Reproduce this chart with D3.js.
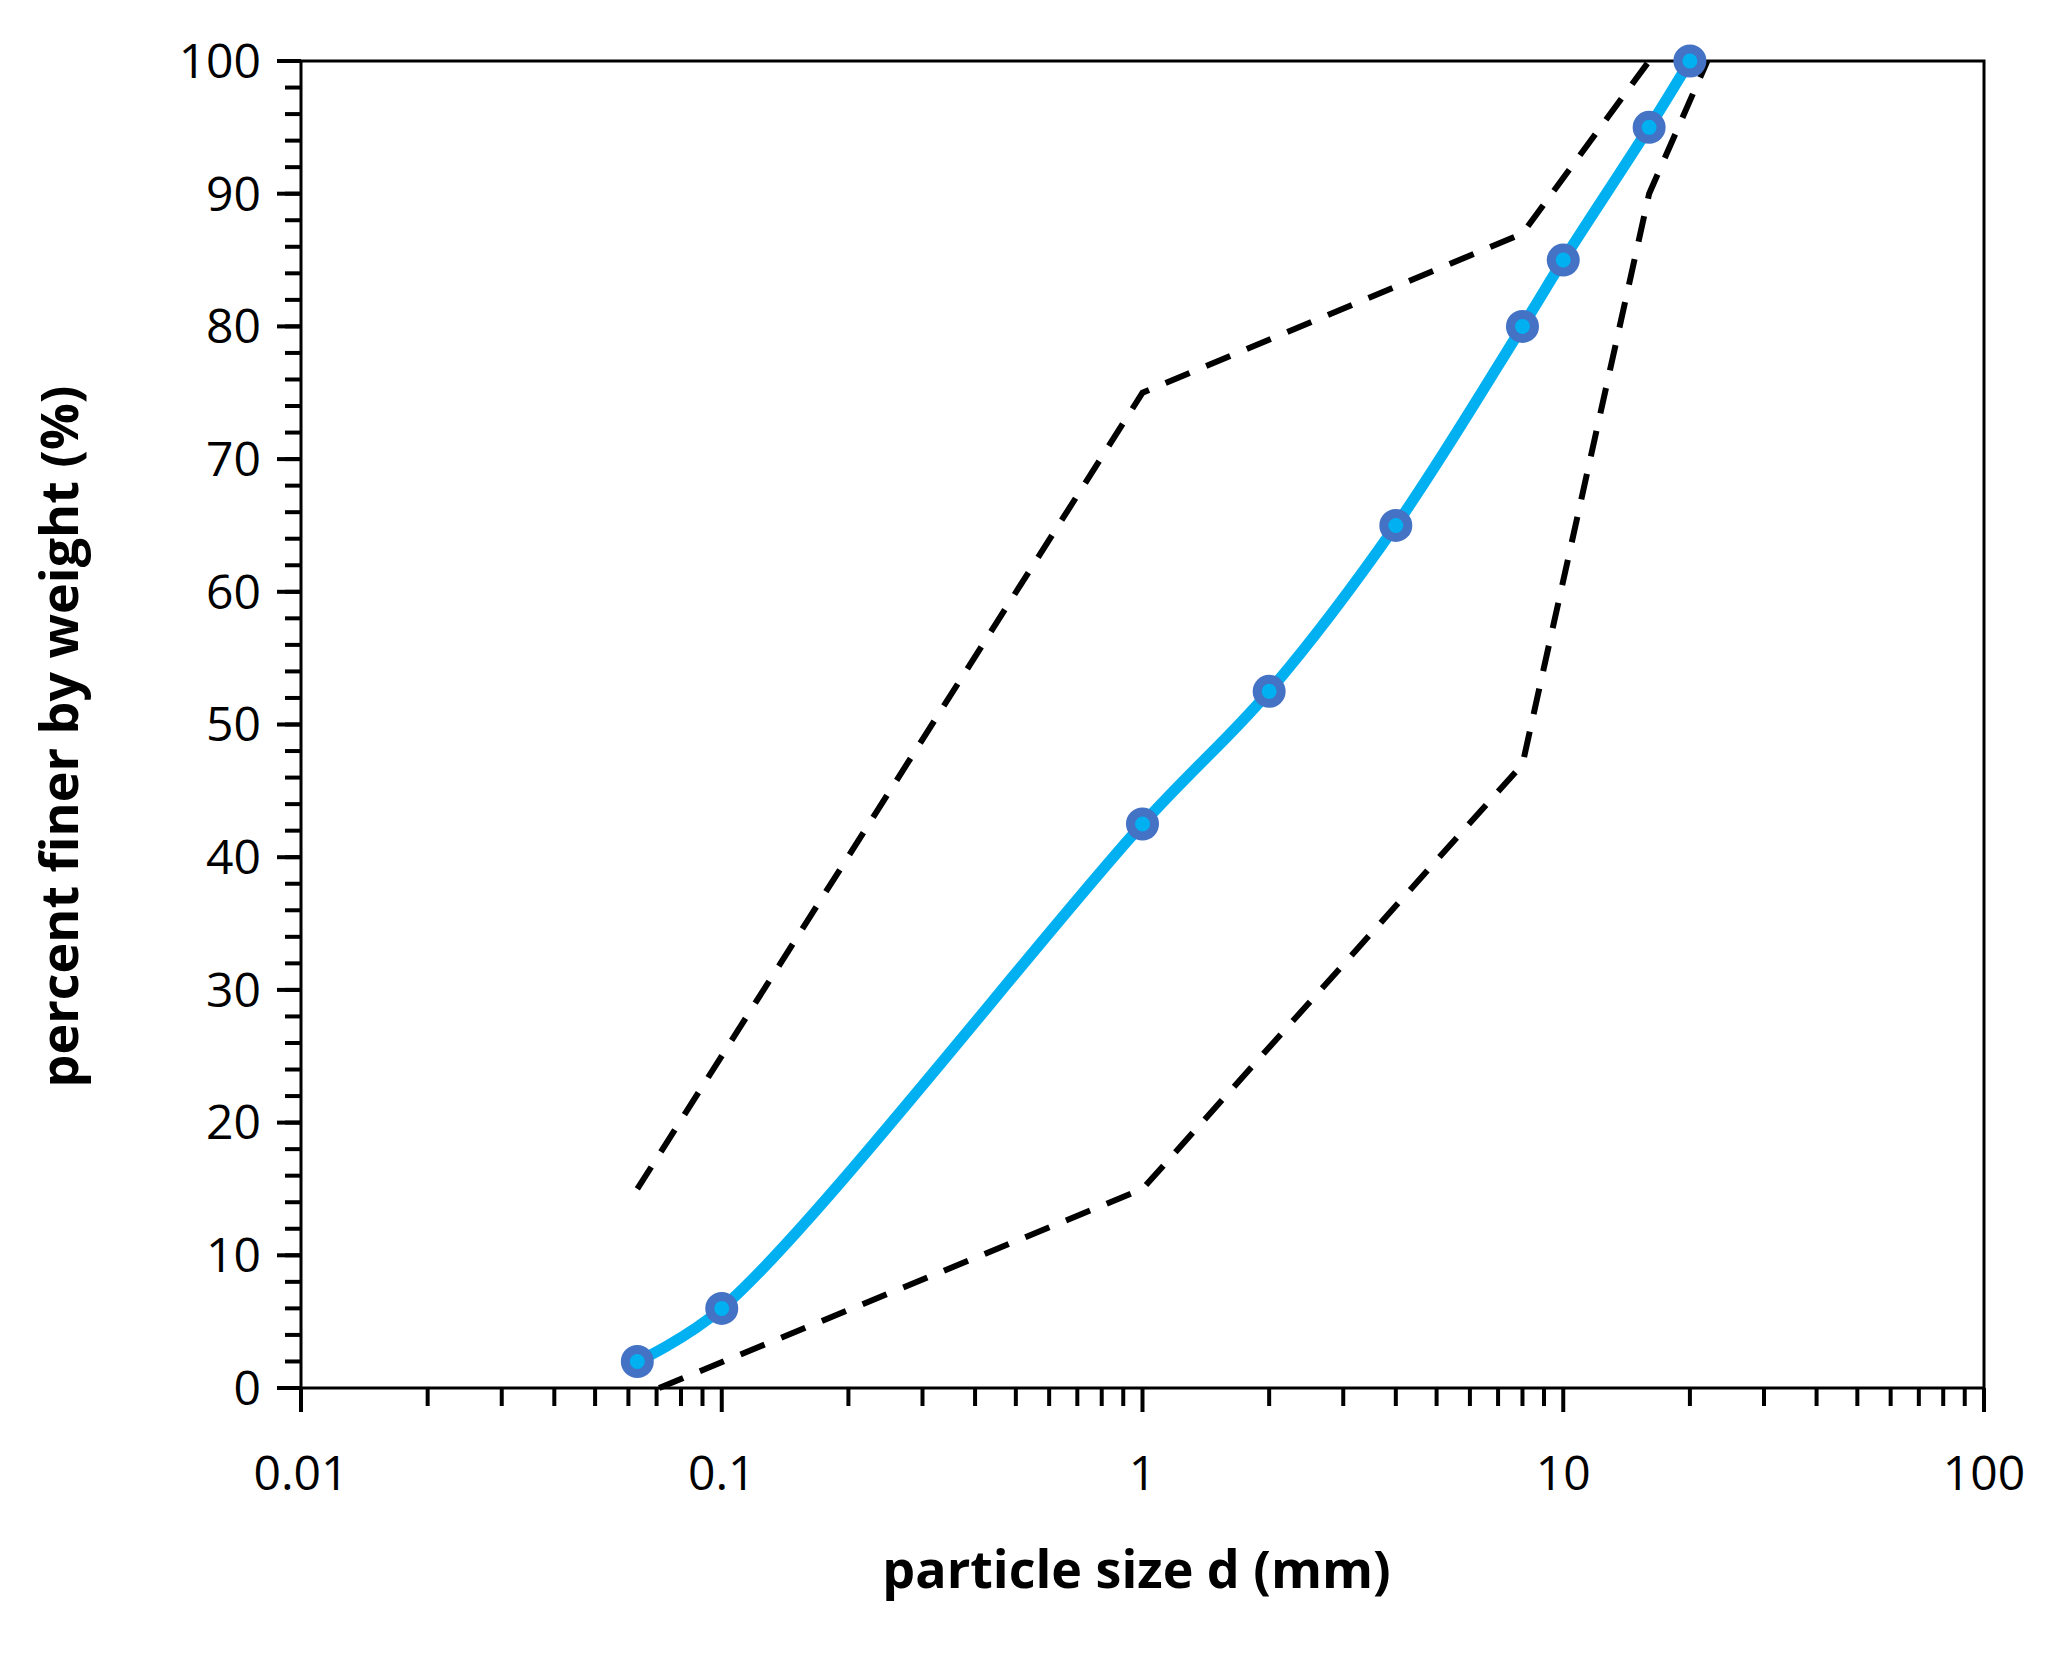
<!DOCTYPE html>
<html><head><meta charset="utf-8">
<script src="https://cdn.jsdelivr.net/npm/d3@7"></script>
<style>body{margin:0;background:#fff}text{font-family:"Open Sans",sans-serif}</style>
</head><body><div id="wrapper"></div>
<script>
const sizes = [0.063, 0.1, 1, 2, 4, 8, 10, 16, 20];
const passing = [2, 6, 42.5, 52.5, 65, 80, 85, 95, 100];
const upperSizes = [0.063, 1, 8, 16];
const upperPassing = [15, 75, 87, 100];
const lowerSizes = [0.071, 1, 8, 16, 22];
const lowerPassing = [0, 15, 47, 90, 100];
const xTicks = [0.01, 0.1, 1, 10, 100];
const yTicks = d3.range(0, 101, 10);

const dimensions = {width: 2049, height: 1653, marginTop: 61, marginRight: 65, marginBottom: 265, marginLeft: 301};
dimensions.boundedWidth = dimensions.width - dimensions.marginLeft - dimensions.marginRight;
dimensions.boundedHeight = dimensions.height - dimensions.marginTop - dimensions.marginBottom;

const svg = d3.select("#wrapper").append("svg")
  .attr("width", dimensions.width).attr("height", dimensions.height);
const bounds = svg.append("g")
  .attr("transform", `translate(${dimensions.marginLeft},${dimensions.marginTop})`);

const xScale = d3.scaleLog().domain([0.01, 100]).range([0, dimensions.boundedWidth]);
const yScale = d3.scaleLinear().domain([0, 100]).range([dimensions.boundedHeight, 0]);

// frame
bounds.append("rect").attr("width", dimensions.boundedWidth).attr("height", dimensions.boundedHeight)
  .attr("fill", "none").attr("stroke", "#000").attr("stroke-width", 3);

// minor ticks
const xMinor = [];
[0.01, 0.1, 1, 10].forEach(d => { for (let k = 2; k <= 9; k++) xMinor.push(d * k); });
bounds.selectAll(".xminor").data(xMinor).enter().append("line")
  .attr("x1", d => xScale(d)).attr("x2", d => xScale(d))
  .attr("y1", dimensions.boundedHeight).attr("y2", dimensions.boundedHeight + 18)
  .attr("stroke", "#000").attr("stroke-width", 4);
bounds.selectAll(".xmajor").data(xTicks).enter().append("line")
  .attr("x1", d => xScale(d)).attr("x2", d => xScale(d))
  .attr("y1", dimensions.boundedHeight).attr("y2", dimensions.boundedHeight + 24)
  .attr("stroke", "#000").attr("stroke-width", 4);
bounds.selectAll(".xlab").data(xTicks).enter().append("text")
  .attr("x", d => xScale(d)).attr("y", dimensions.boundedHeight + 102)
  .attr("text-anchor", "middle").attr("font-size", 48).text(d => d);

const yMinor = d3.range(0, 101, 2);
bounds.selectAll(".yminor").data(yMinor).enter().append("line")
  .attr("x1", -16).attr("x2", 0).attr("y1", d => yScale(d)).attr("y2", d => yScale(d))
  .attr("stroke", "#000").attr("stroke-width", 4);
bounds.selectAll(".ymajor").data(yTicks).enter().append("line")
  .attr("x1", -24).attr("x2", 0).attr("y1", d => yScale(d)).attr("y2", d => yScale(d))
  .attr("stroke", "#000").attr("stroke-width", 4);
bounds.selectAll(".ylab").data(yTicks).enter().append("text")
  .attr("x", -40).attr("y", d => yScale(d)).attr("dy", "0.35em")
  .attr("text-anchor", "end").attr("font-size", 48).text(d => d);

// dashed limits
const straight = d3.line().x(d => xScale(d[0])).y(d => yScale(d[1]));
[[upperSizes, upperPassing], [lowerSizes, lowerPassing]].forEach(([xs, ys]) => {
  bounds.append("path").attr("d", straight(xs.map((x, i) => [x, ys[i]])))
    .attr("fill", "none").attr("stroke", "#000").attr("stroke-width", 6)
    .attr("stroke-dasharray", "26,18");
});

// main curve
const pts = sizes.map((x, i) => [x, passing[i]]);
const smooth = d3.line().x(d => xScale(d[0])).y(d => yScale(d[1])).curve(d3.curveCatmullRom);
bounds.append("path").attr("d", smooth(pts))
  .attr("fill", "none").attr("stroke", "#00b0f0").attr("stroke-width", 11);
bounds.selectAll(".dot").data(pts).enter().append("circle")
  .attr("cx", d => xScale(d[0])).attr("cy", d => yScale(d[1])).attr("r", 12)
  .attr("fill", "#00b0f0").attr("stroke", "#4472c4").attr("stroke-width", 9);

// axis titles
svg.append("text").attr("x", dimensions.marginLeft + dimensions.boundedWidth / 2 - 6).attr("y", 1588)
  .attr("text-anchor", "middle").attr("font-size", 52).attr("font-weight", "bold")
  .text("particle size d (mm)");
svg.append("text").attr("transform", `translate(78,${dimensions.marginTop + dimensions.boundedHeight / 2 + 12}) rotate(-90)`)
  .attr("text-anchor", "middle").attr("font-size", 52).attr("font-weight", "bold")
  .text("percent finer by weight (%)");
</script></body></html>
